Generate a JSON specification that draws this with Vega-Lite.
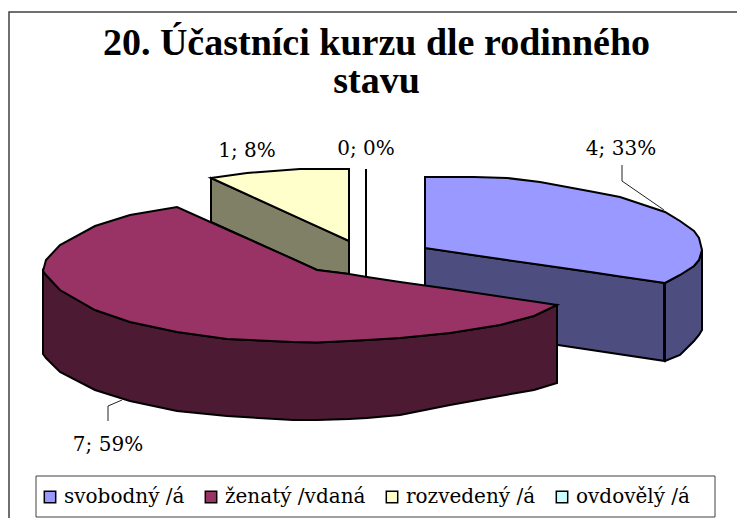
{
"$schema":"https://vega.github.io/schema/vega-lite/v6.json",
"width":737,"height":518,"padding":0,"autosize":{"type":"none"},
"background":"white",
"view":{"stroke":null},
"config":{"view":{"stroke":null}},
"title":{"text":["20. Účastníci kurzu dle rodinného","stavu"],"font":"Liberation Serif","fontWeight":"bold","fontSize":38,"color":"black","anchor":"middle","frame":"group","orient":"top","offset":-59,"dy":72,"baseline":"alphabetic","lineHeight":38,"dx":8},
"datasets":{
"frame":[{"x":9,"x2":760,"y":12,"y2":540}],
"legendBox":[{"x":36,"x2":715,"y":476,"y2":517}],
"faces":[
{"category":"rozvedený /á","part":"side","x":211,"y":178,"y2":222},
{"category":"rozvedený /á","part":"side","x":317,"y":226.4,"y2":270},
{"category":"rozvedený /á","part":"side","x":349,"y":241,"y2":274},
{"category":"rozvedený /á","part":"top","x":211,"y":178,"y2":178},
{"category":"rozvedený /á","part":"top","x":247,"y":173,"y2":194.4},
{"category":"rozvedený /á","part":"top","x":300,"y":169,"y2":218.6},
{"category":"rozvedený /á","part":"top","x":349,"y":169,"y2":241},
{"category":"svobodný /á","part":"cut","x":425,"y":248,"y2":325},
{"category":"svobodný /á","part":"cut","x":665,"y":283,"y2":361},
{"category":"svobodný /á","part":"side","x":665,"y":283,"y2":361},
{"category":"svobodný /á","part":"side","x":680,"y":275,"y2":355},
{"category":"svobodný /á","part":"side","x":694,"y":266,"y2":341},
{"category":"svobodný /á","part":"side","x":699,"y":260,"y2":335},
{"category":"svobodný /á","part":"side","x":702,"y":250,"y2":330},
{"category":"svobodný /á","part":"top","x":425,"y":177,"y2":248},
{"category":"svobodný /á","part":"top","x":474,"y":177,"y2":255.2},
{"category":"svobodný /á","part":"top","x":507,"y":178,"y2":260},
{"category":"svobodný /á","part":"top","x":540,"y":182,"y2":264.8},
{"category":"svobodný /á","part":"top","x":594,"y":192,"y2":272.6},
{"category":"svobodný /á","part":"top","x":620,"y":197,"y2":276.4},
{"category":"svobodný /á","part":"top","x":665,"y":212,"y2":283},
{"category":"svobodný /á","part":"top","x":680,"y":221,"y2":275},
{"category":"svobodný /á","part":"top","x":694,"y":231,"y2":266},
{"category":"svobodný /á","part":"top","x":699,"y":238,"y2":260},
{"category":"svobodný /á","part":"top","x":702,"y":250,"y2":250},
{"category":"ženatý /vdaná","part":"side","x":43,"y":271,"y2":354},
{"category":"ženatý /vdaná","part":"side","x":46,"y":275,"y2":358},
{"category":"ženatý /vdaná","part":"side","x":60,"y":290,"y2":372},
{"category":"ženatý /vdaná","part":"side","x":95,"y":310,"y2":390},
{"category":"ženatý /vdaná","part":"side","x":130,"y":322,"y2":401},
{"category":"ženatý /vdaná","part":"side","x":177,"y":332,"y2":411},
{"category":"ženatý /vdaná","part":"side","x":227,"y":339,"y2":416},
{"category":"ženatý /vdaná","part":"side","x":293,"y":342,"y2":420},
{"category":"ženatý /vdaná","part":"side","x":317,"y":342.5,"y2":420},
{"category":"ženatý /vdaná","part":"side","x":349,"y":341,"y2":419},
{"category":"ženatý /vdaná","part":"side","x":367,"y":340,"y2":418},
{"category":"ženatý /vdaná","part":"side","x":400,"y":338,"y2":415},
{"category":"ženatý /vdaná","part":"side","x":450,"y":333,"y2":405},
{"category":"ženatý /vdaná","part":"side","x":500,"y":325,"y2":396},
{"category":"ženatý /vdaná","part":"side","x":534,"y":316,"y2":390},
{"category":"ženatý /vdaná","part":"side","x":557,"y":305,"y2":383},
{"category":"ženatý /vdaná","part":"top","x":43,"y":271,"y2":271},
{"category":"ženatý /vdaná","part":"top","x":46,"y":260,"y2":275},
{"category":"ženatý /vdaná","part":"top","x":60,"y":245,"y2":290},
{"category":"ženatý /vdaná","part":"top","x":95,"y":226,"y2":310},
{"category":"ženatý /vdaná","part":"top","x":130,"y":215,"y2":322},
{"category":"ženatý /vdaná","part":"top","x":177,"y":207,"y2":332},
{"category":"ženatý /vdaná","part":"top","x":227,"y":229.5,"y2":339},
{"category":"ženatý /vdaná","part":"top","x":293,"y":259,"y2":342},
{"category":"ženatý /vdaná","part":"top","x":317,"y":270,"y2":342.5},
{"category":"ženatý /vdaná","part":"top","x":349,"y":274,"y2":341},
{"category":"ženatý /vdaná","part":"top","x":367,"y":277,"y2":340},
{"category":"ženatý /vdaná","part":"top","x":400,"y":282,"y2":338},
{"category":"ženatý /vdaná","part":"top","x":450,"y":289,"y2":333},
{"category":"ženatý /vdaná","part":"top","x":500,"y":296.6,"y2":325},
{"category":"ženatý /vdaná","part":"top","x":534,"y":301.6,"y2":316},
{"category":"ženatý /vdaná","part":"top","x":557,"y":305,"y2":305}
],
"zero":[{"category":"ovdovělý /á","x":366,"y":169,"y2":278}],
"edge":[{"category":"svobodný /á","x":664.5,"y":283,"y2":361}],
"leaders":[
{"category":"svobodný /á","x":622,"y":165,"step":1},
{"category":"svobodný /á","x":622,"y":181,"step":2},
{"category":"svobodný /á","x":664,"y":210,"step":3},
{"category":"ženatý /vdaná","x":108,"y":421,"step":1},
{"category":"ženatý /vdaná","x":108,"y":406,"step":2},
{"category":"ženatý /vdaná","x":122,"y":400,"step":3}
],
"labels":[
{"category":"svobodný /á","count":4,"percent":33,"label":"4; 33%","x":621,"y":155},
{"category":"ženatý /vdaná","count":7,"percent":59,"label":"7; 59%","x":108,"y":451},
{"category":"rozvedený /á","count":1,"percent":8,"label":"1; 8%","x":247,"y":157},
{"category":"ovdovělý /á","count":0,"percent":0,"label":"0; 0%","x":366,"y":155}
]
},
"encoding":{
"x":{"field":"x","type":"quantitative","axis":null,"scale":{"domain":[0,737],"nice":false,"zero":false}},
"y":{"field":"y","type":"quantitative","axis":null,"scale":{"domain":[0,518],"reverse":true,"nice":false,"zero":false}}
},
"layer":[
{"data":{"name":"frame"},"mark":{"type":"rect","fill":"white","stroke":"#404040","strokeWidth":1.5},"encoding":{"x2":{"field":"x2"},"y2":{"field":"y2"}}},
{"data":{"name":"legendBox"},"mark":{"type":"rect","fill":"white","stroke":"#404040","strokeWidth":1},"encoding":{"x2":{"field":"x2"},"y2":{"field":"y2"}}},
{"data":{"name":"faces"},"transform":[{"filter":"datum.category=='rozvedený /á' && datum.part=='side'"}],"mark":{"type":"area","fill":"#808066","stroke":"black","strokeWidth":2},"encoding":{"y2":{"field":"y2"}}},
{"data":{"name":"zero"},"mark":{"type":"rule","stroke":"black","strokeWidth":2},"encoding":{"y2":{"field":"y2"}}},
{"data":{"name":"faces"},"transform":[{"filter":"datum.category=='svobodný /á' && datum.part=='cut'"}],"mark":{"type":"area","fill":"#4D4D80","stroke":"black","strokeWidth":2},"encoding":{"y2":{"field":"y2"}}},
{"data":{"name":"faces"},"transform":[{"filter":"datum.category=='svobodný /á' && datum.part=='side'"}],"mark":{"type":"area","fill":"#4D4D80","stroke":"black","strokeWidth":2},"encoding":{"y2":{"field":"y2"}}},
{"data":{"name":"edge"},"mark":{"type":"rule","stroke":"black","strokeWidth":3},"encoding":{"y2":{"field":"y2"}}},
{"data":{"name":"faces"},"transform":[{"filter":"datum.category=='ženatý /vdaná' && datum.part=='side'"}],"mark":{"type":"area","fill":"#4D1A33","stroke":"black","strokeWidth":2},"encoding":{"y2":{"field":"y2"}}},
{"data":{"name":"faces"},"transform":[{"filter":"datum.part=='top'"}],"mark":{"type":"area","stroke":"black","strokeWidth":2},"encoding":{"y2":{"field":"y2"},"detail":{"field":"category"},
"fill":{"field":"category","type":"nominal","scale":{"domain":["svobodný /á","ženatý /vdaná","rozvedený /á","ovdovělý /á"],"range":["#9999FF","#993366","#FFFFCC","#CCFFFF"]},
"legend":{"title":null,"orient":"none","legendX":33,"legendY":480,"direction":"horizontal","columns":4,"symbolType":"square","symbolSize":130,"symbolStrokeColor":"black","symbolStrokeWidth":1.5,"labelFont":"DejaVu Serif","labelFontSize":20,"labelColor":"black","labelLimit":300,"columnPadding":16,"padding":7,"labelOffset":4}}}},
{"data":{"name":"leaders"},"mark":{"type":"line","stroke":"#222222","strokeWidth":1},"encoding":{"detail":{"field":"category"},"order":{"field":"step"}}},
{"data":{"name":"labels"},"mark":{"type":"text","font":"DejaVu Serif","fontSize":20,"fill":"black","align":"center","baseline":"alphabetic"},"encoding":{"text":{"field":"label"}}}
]
}
